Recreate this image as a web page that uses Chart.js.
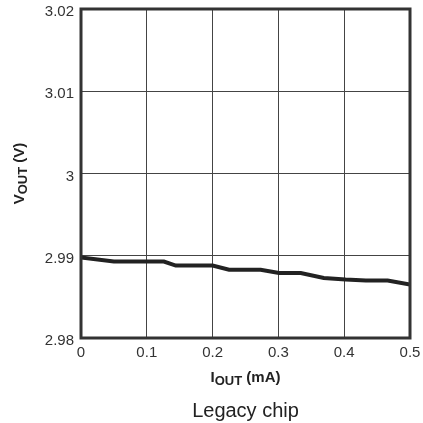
<!DOCTYPE html>
<html>
<head>
<meta charset="utf-8">
<script src="https://cdn.jsdelivr.net/npm/chart.js@4/dist/chart.umd.min.js"></script>
<style>
  html, body { margin: 0; padding: 0; background: #fff; }
  #wrap { width: 423px; height: 423px; }
</style>
</head>
<body>
<div id="wrap"><canvas id="c" width="423" height="423"></canvas></div>
<script>
// Output current (mA) and output voltage (V) samples
const currentMA = [0, 0.05, 0.126, 0.144, 0.2, 0.225, 0.273, 0.301, 0.334, 0.369, 0.402, 0.433, 0.466, 0.5];
const voltageV = [2.9898, 2.9893, 2.9893, 2.9888, 2.9888, 2.9883, 2.9883, 2.9879, 2.9879, 2.9873, 2.9871, 2.9870, 2.9870, 2.9865];

// Axis ticks
const xTicks = [0, 0.1, 0.2, 0.3, 0.4, 0.5];
const yTicks = [2.98, 2.99, 3, 3.01, 3.02];
const xTickLabels = ['0', '0.1', '0.2', '0.3', '0.4', '0.5'];
const yTickLabels = ['2.98', '2.99', '3', '3.01', '3.02'];

const chartTitle = 'Legacy chip';
const FONT = '"Liberation Sans", Arial, sans-serif';

// Draws a label with a subscript part: [main, sub, rest]
function drawSubText(ctx, parts, x, y, size, subSize) {
  const [main, sub, rest] = parts;
  ctx.font = 'bold ' + size + 'px ' + FONT;
  const w1 = ctx.measureText(main).width;
  const w3 = ctx.measureText(rest).width;
  ctx.font = 'bold ' + subSize + 'px ' + FONT;
  const w2 = ctx.measureText(sub).width;
  let cx = x - (w1 + w2 + w3) / 2;
  ctx.textAlign = 'left';
  ctx.textBaseline = 'alphabetic';
  ctx.font = 'bold ' + size + 'px ' + FONT;
  ctx.fillText(main, cx, y);
  cx += w1;
  ctx.font = 'bold ' + subSize + 'px ' + FONT;
  ctx.fillText(sub, cx, y + 3);
  cx += w2;
  ctx.font = 'bold ' + size + 'px ' + FONT;
  ctx.fillText(rest, cx, y);
}

const framePlugin = {
  id: 'frameAndTitles',
  afterDraw(chart) {
    const { ctx, chartArea: a } = chart;
    ctx.save();
    ctx.strokeStyle = '#333';
    ctx.lineWidth = 3;
    ctx.strokeRect(a.left, a.top, a.right - a.left, a.bottom - a.top);

    ctx.fillStyle = '#222';
    // x-axis title
    drawSubText(ctx, ['I', 'OUT', ' (mA)'], (a.left + a.right) / 2, 382, 15, 13);
    // y-axis title (rotated)
    ctx.save();
    ctx.translate(24, (a.top + a.bottom) / 2);
    ctx.rotate(-Math.PI / 2);
    drawSubText(ctx, ['V', 'OUT', ' (V)'], 0, 0, 15, 13);
    ctx.restore();

    // chart caption
    ctx.font = '20px ' + FONT;
    ctx.textAlign = 'center';
    ctx.textBaseline = 'alphabetic';
    ctx.fillStyle = '#222';
    ctx.fillText(chartTitle, (a.left + a.right) / 2, 417);
    ctx.restore();
  }
};

function noPad(s) {
  s.paddingTop = 0; s.paddingBottom = 0; s.paddingLeft = 0; s.paddingRight = 0;
}

new Chart(document.getElementById('c'), {
  type: 'line',
  data: {
    datasets: [{
      data: currentMA.map((x, i) => ({ x: x, y: voltageV[i] })),
      borderColor: '#222',
      borderWidth: 4,
      pointRadius: 0,
      tension: 0,
      fill: false
    }]
  },
  options: {
    responsive: false,
    animation: false,
    layout: { padding: { top: 9, right: 13, left: 0, bottom: 0 } },
    plugins: { legend: { display: false }, tooltip: { enabled: false } },
    scales: {
      x: {
        type: 'linear',
        min: 0,
        max: 0.5,
        afterBuildTicks(s) { s.ticks = xTicks.map(v => ({ value: v })); },
        afterFit(s) { s.height = 85; noPad(s); },
        grid: { color: '#444', lineWidth: 1, drawTicks: false },
        border: { display: false },
        ticks: {
          padding: 6,
          maxRotation: 0,
          color: '#333',
          font: { family: FONT, size: 15 },
          callback: (v) => xTickLabels[xTicks.indexOf(v)]
        }
      },
      y: {
        type: 'linear',
        min: 2.98,
        max: 3.02,
        afterBuildTicks(s) { s.ticks = yTicks.map(v => ({ value: v })); },
        afterFit(s) { s.width = 81; noPad(s); },
        grid: { color: '#444', lineWidth: 1, drawTicks: false },
        border: { display: false },
        ticks: {
          padding: 7,
          labelOffset: 3,
          color: '#333',
          font: { family: FONT, size: 15 },
          callback: (v) => yTickLabels[yTicks.indexOf(v)]
        }
      }
    }
  },
  plugins: [framePlugin]
});
</script>
</body>
</html>
